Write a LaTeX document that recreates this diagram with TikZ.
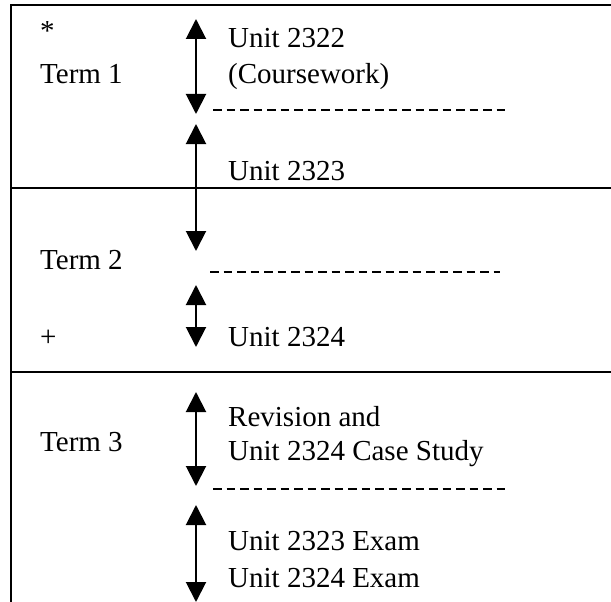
\documentclass[tikz,border=0pt]{standalone}
\usepackage{fontspec}
\setmainfont{Liberation Serif}
\usetikzlibrary{arrows.meta}
\tikzset{
  frame/.style={line width=2.3pt, line cap=rect},
  divider/.style={line width=2pt, dash pattern=on 8.5pt off 5pt},
  span/.style={line width=2pt, {Triangle[length=20pt,width=20pt]}-{Triangle[length=20pt,width=20pt]}},
  txt/.style={anchor=base west, inner sep=0pt, font=\fontsize{29}{34}\selectfont}
}
\begin{document}
\begin{tikzpicture}[x=1pt,y=-1pt]
\useasboundingbox (0,0) rectangle (611,602);
% frame
\draw[frame] (611,5) -- (11,5) -- (11,602);
\draw[frame] (11,188) -- (611,188);
\draw[frame] (11,372) -- (611,372);
% left column
\node[txt] (star) at (40,41) {*};
\node[txt] (t1) at (40,84) {Term 1};
\node[txt] (t2) at (40,269) {Term 2};
\node[txt] (plus) at (40,346) {+};
\node[txt] (t3) at (40,451) {Term 3};
% right column
\node[txt] (u2322) at (228,48) {Unit 2322};
\node[txt] (cw) at (228,84) {(Coursework)};
\node[txt] (u2323) at (228,180) {Unit 2323};
\node[txt] (u2324) at (228,346) {Unit 2324};
\node[txt] (rev) at (228,426) {Revision and};
\node[txt] (cs) at (228,460) {Unit 2324 Case Study};
\node[txt] (ex1) at (228,550) {Unit 2323 Exam};
\node[txt] (ex2) at (228,587) {Unit 2324 Exam};
% arrow end points
\coordinate (a1t) at (196,19);  \coordinate (a1b) at (196,114);
\coordinate (a2t) at (196,124); \coordinate (a2b) at (196,251);
\coordinate (a3t) at (196,285); \coordinate (a3b) at (196,347);
\coordinate (a4t) at (196,392); \coordinate (a4b) at (196,486);
\coordinate (a5t) at (196,505); \coordinate (a5b) at (196,602);
\draw[span] (a1t) -- (a1b);
\draw[span] (a2t) -- (a2b);
\draw[span] (a3t) -- (a3b);
\draw[span] (a4t) -- (a4b);
\draw[span] (a5t) -- (a5b);
% dashed dividers
\coordinate (d1s) at (213,110); \coordinate (d1e) at (505,110);
\coordinate (d2s) at (210,272); \coordinate (d2e) at (500,272);
\coordinate (d3s) at (213,489); \coordinate (d3e) at (505,489);
\draw[divider] (d1s) -- (d1e);
\draw[divider] (d2s) -- (d2e);
\draw[divider] (d3s) -- (d3e);
\end{tikzpicture}
\end{document}
